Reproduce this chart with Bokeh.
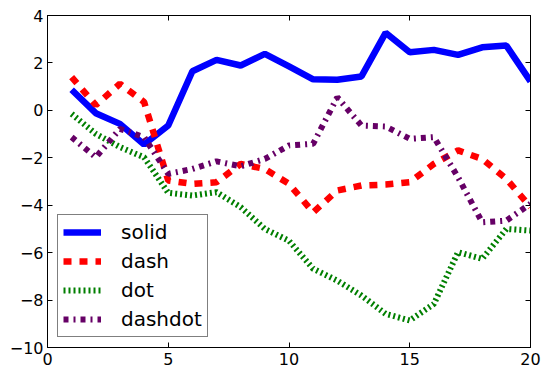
from bokeh.plotting import figure
from bokeh.models import Range1d, FixedTicker, LinearAxis, Legend, LegendItem
from bokeh.embed import file_html
from bokeh.resources import INLINE

x = list(range(1, 21))
solid = [0.87, -0.12, -0.57, -1.44, -0.64, 1.65, 2.13, 1.89, 2.38, 1.85,
         1.31, 1.29, 1.43, 3.27, 2.45, 2.55, 2.34, 2.66, 2.73, 1.22]
dash = [1.4, 0.22, 1.12, 0.35, -2.96, -3.1, -3.03, -2.26, -2.47, -3.1,
        -4.3, -3.38, -3.17, -3.13, -3.03, -2.26, -1.69, -2.05, -2.89, -4.08]
dot = [-0.15, -0.99, -1.55, -1.98, -3.48, -3.59, -3.45, -4.08, -5.0, -5.5,
       -6.68, -7.18, -7.81, -8.58, -8.86, -8.16, -5.98, -6.26, -5.0, -5.07]
dashdot = [-1.13, -1.98, -0.78, -1.13, -2.68, -2.47, -2.15, -2.36, -2.05, -1.48,
           -1.41, 0.55, -0.64, -0.68, -1.2, -1.13, -2.82, -4.72, -4.65, -3.94]

x_ticks = [0, 5, 10, 15, 20]
y_ticks = [-10, -8, -6, -4, -2, 0, 2, 4]
y_tick_labels = ["\u221210", "\u22128", "\u22126", "\u22124", "\u22122", "0", "2", "4"]

FONT = "DejaVu Sans"

p = figure(width=542, height=369, output_backend="svg", toolbar_location=None,
           x_range=Range1d(0, 20), y_range=Range1d(-10, 4),
           min_border_left=47, min_border_right=12, min_border_top=15,
           min_border_bottom=22)
p.background_fill_color = "white"
p.border_fill_color = "white"
p.outline_line_color = "black"
p.outline_line_width = 1
p.xgrid.visible = False
p.ygrid.visible = False

r1 = p.line(x, solid, line_color="#0000ff", line_width=6.5)
r2 = p.line(x, dash, line_color="#ff0000", line_width=6.5, line_dash="8 8")
r3 = p.line(x, dot, line_color="#007f00", line_width=6, line_dash="2 3")
r4 = p.line(x, dashdot, line_color="#660066", line_width=6, line_dash="5 5 2 5")

def style_axis(ax, labels=True):
    ax.axis_line_color = "black"
    ax.major_tick_in = 5
    ax.major_tick_out = 0
    ax.minor_tick_line_color = None
    ax.major_label_text_font = FONT
    ax.major_label_text_font_size = "16px"
    ax.major_label_text_color = "black"
    if not labels:
        ax.major_label_text_font_size = "0px"
        ax.major_label_text_color = None

p.xaxis.ticker = FixedTicker(ticks=x_ticks)
p.yaxis.ticker = FixedTicker(ticks=y_ticks)
p.yaxis.major_label_overrides = {t: l for t, l in zip(y_ticks, y_tick_labels)}
style_axis(p.xaxis[0])
style_axis(p.yaxis[0])
p.xaxis.major_label_standoff = 5
p.yaxis.major_label_standoff = 4

top = LinearAxis(ticker=FixedTicker(ticks=x_ticks))
right = LinearAxis(ticker=FixedTicker(ticks=y_ticks))
style_axis(top, labels=False)
style_axis(right, labels=False)
p.add_layout(top, "above")
p.add_layout(right, "right")

legend = Legend(items=[
    LegendItem(label="solid", renderers=[r1]),
    LegendItem(label="dash", renderers=[r2]),
    LegendItem(label="dot", renderers=[r3]),
    LegendItem(label="dashdot", renderers=[r4]),
], location="bottom_left")
legend.margin = 10
legend.padding = 5
legend.spacing = 5
legend.glyph_width = 38
legend.glyph_height = 24
legend.label_height = 24
legend.label_standoff = 20
legend.label_text_font = FONT
legend.label_text_font_size = "20px"
legend.label_text_color = "black"
legend.border_line_color = "black"
legend.border_line_width = 1
legend.background_fill_color = "white"
legend.background_fill_alpha = 1
p.add_layout(legend, "center")

open("out.html", "w").write(file_html(p, INLINE))
